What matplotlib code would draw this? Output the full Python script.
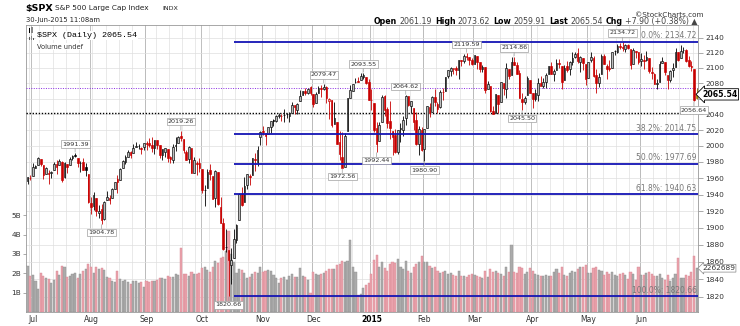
import matplotlib
matplotlib.use('Agg')
import matplotlib.pyplot as plt
import numpy as np
import pandas as pd
from matplotlib.ticker import FixedLocator, FuncFormatter, NullLocator
from matplotlib.transforms import blended_transform_factory
from matplotlib.patches import Rectangle

W, H = 740, 326

# trading calendar, 27-Jun-2014 .. 30-Jun-2015
holidays = ['2014-07-04', '2014-09-01', '2014-11-27', '2014-12-25', '2015-01-01',
            '2015-01-19', '2015-02-16', '2015-04-03', '2015-05-25']
days = pd.bdate_range('2014-06-27', '2015-06-30')
days = days[~days.isin(pd.to_datetime(holidays))]

opens = [
    1957.2, 1960.8,
    # Jul
    1962.3, 1973.1, 1975.9, 1984.2, 1976.4, 1965.1, 1966.7, 1965.8, 1969.9, 1977.4, 1976.4,
    1979.8, 1961.5, 1976.9, 1975.7, 1984.6, 1988.1, 1984.6, 1978.3, 1980.0, 1973.2, 1965.1,
    # Aug
    1929.8, 1926.6, 1936.3, 1917.3, 1923.0, 1910.4, 1933.4, 1935.7, 1935.6, 1947.4, 1958.9,
    1958.4, 1972.7, 1980.5, 1986.8, 1992.6, 1991.7, 1998.6, 2000.5, 1997.4, 1998.5,
    # Sep
    2004.1, 2003.6, 2001.7, 1998.0, 2007.2, 2000.7, 1988.4, 1992.9, 1996.7, 1986.0, 1981.9,
    1999.3, 2003.1, 2012.7, 2009.1, 1992.8, 1983.3, 1997.3, 1966.2, 1978.96, 1978.2,
    # Oct
    1971.4, 1945.8, 1948.1, 1970.0, 1962.4, 1935.6, 1967.7, 1925.6, 1905.7, 1877.1, 1874.2,
    1855.95, 1864.9, 1885.6, 1909.4, 1941.3, 1931.0, 1951.6, 1962.97, 1964.1, 1983.3, 1979.5,
    2011.1,
    # Nov
    2018.2, 2015.8, 2015.3, 2023.3, 2032.0, 2032.0, 2038.2, 2037.8, 2039.2, 2039.7, 2038.3,
    2041.5, 2051.2, 2045.9, 2057.5, 2065.1, 2070.2, 2067.4, 2074.8,
    # Dec
    2065.8, 2053.8, 2067.5, 2073.6, 2072.8, 2074.8, 2056.6, 2058.9, 2027.9, 2030.4, 2005.0,
    1986.7, 1973.8, 2018.98, 2061.0, 2069.3, 2081.5, 2083.3, 2084.3, 2087.6, 2088.5, 2082.1,
    # Jan
    2058.9, 2054.4, 2022.2, 2005.6, 2030.6, 2063.5, 2046.1, 2031.6, 2018.4, 2013.8, 1992.25,
    2020.8, 2020.2, 2034.7, 2062.98, 2050.4, 2047.9, 2032.3, 2002.5, 2019.4,
    # Feb
    1996.7, 2022.7, 2048.9, 2043.5, 2062.3, 2053.5, 2049.4, 2068.6, 2069.98, 2088.8, 2096.5,
    2099.2, 2099.3, 2097.6, 2109.8, 2109.1, 2115.3, 2113.9, 2110.9,
    # Mar
    2105.2, 2115.8, 2107.7, 2098.5, 2100.9, 2072.3, 2076.1, 2044.7, 2041.1, 2064.6, 2055.4,
    2080.6, 2072.8, 2098.7, 2090.3, 2107.99, 2103.9, 2093.1, 2059.9, 2055.8, 2064.1, 2084.1,
    # Apr
    2067.6, 2060.0, 2064.9, 2080.8, 2076.9, 2081.3, 2091.5, 2102.0, 2092.3, 2097.8, 2105.96,
    2102.6, 2084.1, 2102.8, 2098.3, 2107.2, 2114.8, 2119.3, 2108.4, 2112.5, 2105.5,
    # May
    2087.4, 2110.2, 2112.6, 2091.3, 2079.96, 2092.1, 2115.6, 2102.9, 2099.6, 2100.4, 2122.1,
    2121.3, 2129.45, 2127.8, 2125.6, 2130.4, 2125.3, 2105.1, 2122.3, 2120.7,
    # Jun
    2108.6, 2110.4, 2110.6, 2112.4, 2095.1, 2092.3, 2079.07, 2081.1, 2106.2, 2107.4, 2091.3,
    2084.3, 2097.4, 2101.6, 2121.1, 2112.5, 2123.2, 2123.6, 2109.96, 2102.6, 2098.6, 2061.19,
]

highs = [
    1961.0, 1964.2,
    1978.6, 1976.7, 1985.6, 1984.2, 1976.4, 1974.2, 1969.8, 1968.7, 1979.9, 1982.5, 1983.9,
    1981.8, 1979.9, 1976.9, 1986.2, 1989.2, 1991.39, 1984.6, 1981.5, 1984.9, 1978.9, 1965.1,
    1937.4, 1942.9, 1936.3, 1927.9, 1928.9, 1932.4, 1944.9, 1939.7, 1948.4, 1955.2, 1964.0,
    1972.0, 1982.6, 1988.6, 1994.8, 1993.5, 2001.95, 2005.0, 2002.1, 1998.6, 2003.4,
    2006.1, 2009.3, 2011.2, 2007.8, 2007.2, 2001.0, 1996.7, 1997.7, 1996.7, 1987.2, 2002.3,
    2010.7, 2012.3, 2019.26, 2009.1, 1995.4, 1999.8, 1997.3, 1986.4, 1981.3, 1985.2,
    1971.4, 1952.3, 1971.2, 1977.8, 1962.4, 1970.4, 1967.7, 1936.98, 1912.1, 1898.7, 1874.2,
    1876.0, 1898.2, 1905.0, 1942.45, 1949.3, 1961.95, 1965.3, 1964.6, 1985.05, 1991.4, 1999.4,
    2018.2,
    2024.5, 2015.98, 2023.8, 2031.6, 2034.3, 2038.7, 2041.3, 2040.3, 2046.2, 2041.1, 2043.1,
    2056.1, 2052.1, 2053.8, 2071.5, 2070.2, 2074.2, 2073.4, 2075.8,
    2065.8, 2068.8, 2076.3, 2077.3, 2079.47, 2075.8, 2060.6, 2058.9, 2055.5, 2030.4, 2018.7,
    2016.9, 2016.8, 2061.3, 2077.85, 2078.76, 2086.7, 2087.6, 2092.7, 2093.55, 2088.5, 2085.6,
    2072.4, 2054.4, 2030.25, 2029.6, 2064.1, 2064.4, 2049.3, 2056.9, 2018.4, 2021.4, 2020.5,
    2028.9, 2038.3, 2064.62, 2062.98, 2057.6, 2047.9, 2042.5, 2024.6, 2023.3,
    2021.7, 2050.3, 2054.7, 2063.5, 2072.4, 2056.2, 2070.9, 2073.5, 2088.5, 2097.0, 2101.3,
    2100.2, 2102.1, 2111.0, 2110.05, 2117.9, 2119.59, 2113.9, 2112.7,
    2117.5, 2115.8, 2107.7, 2104.3, 2100.9, 2083.5, 2076.1, 2050.1, 2066.4, 2064.6, 2081.4,
    2080.6, 2106.9, 2098.7, 2113.9, 2114.86, 2107.6, 2097.4, 2067.1, 2062.8, 2088.97, 2084.1,
    2067.6, 2072.2, 2086.99, 2089.8, 2086.7, 2093.3, 2102.6, 2107.6, 2098.6, 2111.9, 2111.3,
    2102.6, 2103.9, 2109.6, 2109.0, 2120.5, 2120.9, 2125.9, 2116.0, 2113.6, 2105.5,
    2108.4, 2120.95, 2115.2, 2098.4, 2092.9, 2117.7, 2117.7, 2105.1, 2110.2, 2121.5, 2123.9,
    2131.8, 2133.0, 2134.72, 2131.8, 2132.2, 2125.3, 2126.2, 2122.3, 2120.7,
    2119.2, 2117.6, 2121.9, 2112.9, 2100.99, 2093.0, 2085.6, 2108.5, 2115.0, 2107.4, 2091.3,
    2097.4, 2106.8, 2126.65, 2121.6, 2129.87, 2128.0, 2125.1, 2116.0, 2108.9, 2098.6, 2073.62,
]

lows = [
    1952.4, 1958.2,
    1962.3, 1972.6, 1975.9, 1974.9, 1959.5, 1965.1, 1952.9, 1959.7, 1969.9, 1965.3, 1975.7,
    1955.6, 1960.8, 1965.8, 1975.7, 1982.4, 1985.8, 1974.4, 1967.3, 1969.9, 1962.4, 1930.0,
    1916.4, 1921.2, 1913.8, 1911.5, 1904.78, 1909.0, 1933.4, 1928.3, 1935.6, 1947.4, 1941.5,
    1958.4, 1972.7, 1977.7, 1986.8, 1984.8, 1991.7, 1998.6, 1996.2, 1990.5, 1994.7,
    1994.9, 1998.2, 1992.5, 1990.1, 1995.6, 1984.6, 1982.99, 1985.9, 1980.3, 1978.5, 1979.1,
    1993.3, 2003.1, 2006.6, 1991.0, 1982.4, 1978.6, 1965.9, 1966.2, 1964.0, 1968.0,
    1941.7, 1926.0, 1948.1, 1958.4, 1935.1, 1925.2, 1927.6, 1906.1, 1874.1, 1871.8, 1820.66,
    1835.0, 1864.9, 1882.3, 1909.4, 1926.8, 1931.0, 1946.3, 1951.4, 1964.1, 1969.0, 1974.8,
    2001.0,
    2013.7, 2001.0, 2015.0, 2015.9, 2025.1, 2030.2, 2035.3, 2031.3, 2030.4, 2035.2, 2030.2,
    2041.5, 2040.4, 2040.5, 2056.8, 2065.1, 2064.8, 2066.4, 2065.1,
    2049.6, 2053.8, 2066.7, 2062.3, 2070.8, 2054.3, 2034.2, 2024.3, 2027.9, 2002.3, 1982.3,
    1972.56, 1973.8, 2018.98, 2061.0, 2069.3, 2079.8, 2081.5, 2084.3, 2085.8, 2079.5, 2057.9,
    2046.0, 2017.3, 1992.44, 2005.6, 2030.6, 2038.3, 2022.6, 2008.3, 1988.4, 1991.5, 1990.0,
    2004.5, 2012.0, 2026.4, 2050.5, 2040.97, 2019.9, 2001.5, 1989.2, 1993.4,
    1980.90, 2022.7, 2036.7, 2043.5, 2049.97, 2041.9, 2048.6, 2057.99, 2069.98, 2086.7, 2089.8,
    2092.2, 2090.8, 2085.4, 2103.0, 2105.9, 2109.9, 2103.8, 2103.8,
    2104.5, 2098.3, 2094.5, 2095.2, 2067.3, 2072.2, 2042.5, 2039.69, 2041.1, 2041.2, 2055.4,
    2065.1, 2061.2, 2085.6, 2090.3, 2104.4, 2091.5, 2061.05, 2045.50, 2052.96, 2064.1, 2067.0,
    2048.4, 2057.3, 2056.5, 2076.1, 2073.3, 2074.3, 2091.5, 2092.3, 2083.2, 2097.8, 2100.0,
    2072.4, 2084.1, 2094.4, 2091.1, 2103.2, 2112.8, 2107.0, 2094.9, 2097.4, 2077.6,
    2087.4, 2108.3, 2088.5, 2067.9, 2074.99, 2092.1, 2104.6, 2085.6, 2096.0, 2100.4, 2116.8,
    2120.0, 2124.5, 2122.6, 2120.9, 2125.5, 2099.2, 2105.1, 2112.9, 2104.9,
    2102.5, 2099.1, 2109.6, 2093.2, 2085.7, 2079.1, 2072.1, 2081.1, 2106.2, 2091.3, 2072.5,
    2082.1, 2087.9, 2101.6, 2109.4, 2112.5, 2119.9, 2107.9, 2101.8, 2095.4, 2056.64, 2059.91,
]

closes = [
    1960.96, 1960.23,
    1973.32, 1974.62, 1985.44, 1977.65, 1963.71, 1972.83, 1964.68, 1967.57, 1977.10, 1973.28,
    1981.57, 1958.12, 1978.22, 1973.63, 1983.53, 1987.01, 1987.98, 1978.34, 1978.91, 1969.95,
    1970.07, 1930.67,
    1925.15, 1938.99, 1920.21, 1920.24, 1909.57, 1931.59, 1936.92, 1933.75, 1946.72, 1955.18,
    1955.06, 1971.74, 1981.60, 1986.51, 1992.37, 1988.40, 1997.92, 2000.02, 2000.12, 1996.74,
    2003.37,
    2002.28, 2000.72, 1997.65, 2007.71, 2001.54, 1988.44, 1995.69, 1997.45, 1985.54, 1984.13,
    1998.98, 2001.57, 2011.36, 2010.40, 1994.29, 1982.77, 1998.30, 1965.99, 1982.85, 1977.80,
    1972.29,
    1946.16, 1946.17, 1967.90, 1964.82, 1935.10, 1968.89, 1928.21, 1906.13, 1874.74, 1877.70,
    1862.49, 1862.76, 1886.76, 1904.01, 1941.28, 1927.11, 1950.82, 1964.58, 1961.63, 1985.05,
    1982.30, 1994.65, 2018.05,
    2017.81, 2012.10, 2023.57, 2031.21, 2031.92, 2038.26, 2039.68, 2038.25, 2039.33, 2039.82,
    2041.32, 2051.80, 2048.72, 2052.75, 2063.50, 2069.41, 2067.03, 2072.83, 2067.56,
    2053.44, 2066.55, 2074.33, 2071.92, 2075.37, 2060.31, 2059.82, 2026.14, 2035.33, 2002.33,
    1989.63, 1972.74, 2012.89, 2061.23, 2070.65, 2078.54, 2082.17, 2081.88, 2088.77, 2090.57,
    2080.35, 2058.90,
    2058.20, 2020.58, 2002.61, 2025.90, 2062.14, 2044.81, 2028.26, 2023.03, 2011.27, 1992.67,
    2019.42, 2022.55, 2032.12, 2063.15, 2051.82, 2057.09, 2029.55, 2002.16, 2021.25, 1994.99,
    2020.85, 2050.03, 2041.51, 2062.52, 2055.47, 2046.74, 2068.59, 2068.53, 2088.48, 2096.99,
    2100.34, 2099.68, 2097.45, 2110.30, 2109.66, 2115.48, 2113.86, 2110.74, 2104.50,
    2117.39, 2107.78, 2098.53, 2101.04, 2071.26, 2079.43, 2044.16, 2040.24, 2065.95, 2053.40,
    2081.19, 2074.28, 2099.50, 2089.27, 2108.10, 2104.42, 2091.50, 2061.05, 2056.15, 2061.02,
    2086.24, 2067.89,
    2059.69, 2066.96, 2080.62, 2076.33, 2081.90, 2091.18, 2102.06, 2092.43, 2095.84, 2106.63,
    2104.99, 2081.18, 2100.40, 2097.29, 2107.96, 2112.93, 2117.69, 2108.92, 2114.76, 2106.85,
    2085.51,
    2108.29, 2114.49, 2089.46, 2080.15, 2088.00, 2116.10, 2105.33, 2099.12, 2098.48, 2121.10,
    2122.73, 2129.20, 2127.83, 2125.85, 2130.82, 2126.06, 2104.20, 2123.48, 2120.79, 2107.39,
    2111.73, 2109.60, 2114.07, 2095.84, 2092.83, 2079.28, 2080.15, 2105.20, 2108.86, 2094.11,
    2084.43, 2096.29, 2100.44, 2121.24, 2109.99, 2122.85, 2124.20, 2108.58, 2102.31, 2101.49,
    2057.64, 2065.54,
]

# volume, billions of shares
volumes = [
    2.4, 1.85,
    1.9, 1.6, 1.2, 2.0, 1.85, 1.75, 1.7, 1.5, 1.65, 2.1, 1.9, 2.4, 2.35, 1.8, 1.85, 1.95,
    2.0, 1.75, 1.95, 2.1, 2.2, 2.5,
    2.35, 2.0, 2.3, 2.2, 2.25, 2.15, 1.8, 1.75, 1.6, 1.55, 2.1, 1.7, 1.6, 1.65, 1.55, 1.45,
    1.6, 1.6, 1.5, 1.55, 1.3,
    1.6, 1.55, 1.6, 1.6, 1.65, 1.75, 1.75, 1.7, 1.85, 1.8, 1.8, 1.95, 1.9, 3.3, 1.95, 1.95,
    1.85, 2.05, 1.95, 1.95, 2.0,
    2.25, 2.35, 2.15, 2.05, 2.3, 2.65, 2.55, 2.8, 2.85, 3.15, 4.2, 3.0, 2.6, 2.0, 2.2, 2.15,
    2.0, 1.75, 1.8, 1.95, 2.05, 2.0, 2.3,
    2.05, 2.1, 2.15, 2.1, 1.9, 1.75, 1.5, 1.75, 1.8, 1.65, 1.85, 1.95, 1.8, 1.8, 2.25, 1.85,
    1.8, 1.65, 1.0,
    2.05, 1.95, 1.9, 1.95, 2.0, 2.1, 2.2, 2.2, 2.2, 2.45, 2.5, 2.65, 2.6, 2.65, 3.7, 2.3,
    2.05, 0.9, 0.95, 1.25, 1.4, 1.5,
    1.95, 2.7, 2.95, 2.35, 2.6, 2.25, 2.1, 2.5, 2.6, 2.55, 2.75, 2.35, 2.2, 2.65, 2.1, 2.0,
    2.35, 2.5, 2.6, 2.9,
    2.6, 2.6, 2.4, 2.25, 2.35, 2.1, 2.0, 2.05, 2.1, 1.95, 2.0, 1.9, 1.85, 2.1, 1.85, 1.85,
    1.8, 1.9, 1.95,
    1.9, 1.85, 1.8, 1.75, 2.1, 1.8, 2.2, 2.05, 2.1, 2.0, 1.95, 1.85, 2.35, 2.05, 3.45, 2.05,
    2.0, 2.3, 2.25, 1.95, 2.05, 2.25,
    2.1, 1.95, 1.9, 1.85, 1.85, 1.9, 1.85, 1.85, 2.05, 2.2, 2.0, 2.35, 1.9, 1.85, 2.0, 2.1,
    2.05, 2.2, 2.3, 2.3, 2.45,
    2.0, 2.0, 2.25, 2.3, 2.15, 2.1, 1.9, 2.05, 1.95, 2.05, 1.9, 1.85, 1.95, 2.0, 1.9, 1.7,
    2.05, 1.95, 1.65, 2.3,
    1.9, 1.9, 2.0, 2.05, 1.95, 1.85, 1.85, 1.95, 1.75, 1.65, 1.9, 1.6, 1.75, 1.95, 2.8, 1.75,
    1.75, 1.9, 1.85, 2.05, 2.9, 2.262689,
]

# labelled turning points (index into the daily lists)
swing_highs = [18, 58, 112, 127, 143, 166, 184, 225]
swing_lows = [28, 76, 119, 132, 150, 187, 252]

fib_pcts = [0.0, 38.2, 50.0, 61.8, 100.0]
resist_level = 2073.6
support_level = 2041.0
price_ticks = list(range(1820, 2141, 20))
vol_ticks = [1, 2, 3, 4, 5]

for arr in (opens, highs, lows, closes, volumes):
    assert len(arr) == len(days), len(arr)

o = np.array(opens); h = np.array(highs); l = np.array(lows); c = np.array(closes)
v = np.array(volumes) * 1e9
x = np.arange(len(days))
prev = np.r_[o[0], c[:-1]]
up = c >= prev

fig = plt.figure(figsize=(W / 100, H / 100), dpi=100)
rect = [26 / W, 1 - 312 / H, 672 / W, 287 / H]
ax = fig.add_axes(rect)                      # grid + price scale
axv = fig.add_axes(rect, sharex=ax)          # volume overlay
axp = fig.add_axes(rect, sharex=ax, sharey=ax)  # candles on top

ax.set_yscale('log')
ax.set_ylim(1802.7, 2157.1)
ax.set_xlim(-0.57, 253.5)
ax.yaxis.set_major_locator(FixedLocator(price_ticks))
# the 2060 label sits under the last-price tag
ax.yaxis.set_major_formatter(FuncFormatter(lambda val, pos: '' if round(val) == 2060 else f'{val:.0f}'))
ax.yaxis.set_minor_locator(NullLocator())
ax.yaxis.tick_right()
ax.tick_params(axis='y', labelsize=5.3, labelcolor='#333333', length=3.5, width=0.5,
               color='#888888', pad=1.5)
for s in ax.spines.values():
    s.set_color('#999999')
    s.set_linewidth(0.6)

# grid: weekly, monthly, price levels
month_idx = [i for i in range(1, len(days)) if days[i].month != days[i - 1].month]
week_idx = [i for i in range(1, len(days)) if days[i].weekday() < days[i - 1].weekday()]
for i in week_idx:
    ax.axvline(i - 0.5, color='#e0e0e0', lw=0.5, zorder=0)
for i in month_idx:
    ax.axvline(i - 0.5, color='#b4b4b4', lw=0.6, zorder=0)
for p in price_ticks:
    ax.axhline(p, color='#dedede', lw=0.5, zorder=0)

ax.set_xticks(month_idx)
ax.set_xticklabels(['2015' if days[i].month == 1 else days[i].strftime('%b') for i in month_idx])
ax.tick_params(axis='x', length=0, pad=2, labelsize=5.5, labelcolor='#333333')
for t, i in zip(ax.get_xticklabels(), month_idx):
    if days[i].month == 1:
        t.set_fontweight('bold')
        t.set_color('#000000')

# volume
axv.patch.set_visible(False)
for s in axv.spines.values():
    s.set_visible(False)
axv.set_ylim(0, 14.83e9)
vcol = np.where(up, '#ababab', '#eaa3ad')
vedge = np.where(up, '#909090', '#d78893')
axv.bar(x, v, width=0.8, color=vcol, edgecolor=vedge, linewidth=0.3)
axv.yaxis.tick_left()
axv.set_yticks([t * 1e9 for t in vol_ticks])
axv.set_yticklabels([f'{t}B' for t in vol_ticks])
axv.tick_params(axis='y', labelsize=5.3, labelcolor='#333333', length=2, width=0.5,
                color='#888888', pad=1.5)
axv.tick_params(axis='x', bottom=False, labelbottom=False)

# candles
axp.set_axis_off()
edge = np.where(up, '#000000', '#c80000')
filled = c < o
face = np.where(filled, edge, np.where(up, '#bdbdbd', '#f2b0b0'))
edge[-1] = '#7a6a00'
face[-1] = '#ffe600'
axp.vlines(x, l, h, colors=edge, lw=0.6, zorder=3)
body_lo = np.minimum(o, c)
body_h = np.maximum(np.abs(c - o), 0.4)
axp.bar(x, body_h, bottom=body_lo, width=0.62, color=face, edgecolor=edge,
        linewidth=0.45, zorder=4)

# horizontal reference lines
axp.axhline(resist_level, color='#8a2be2', lw=0.7, ls=(0, (1, 1.5)), zorder=2)
axp.axhline(support_level, color='#000000', lw=1.0, ls=(0, (1, 1.2)), zorder=2)

# fibonacci retracement from the Oct low to the May high
lo_i = int(np.argmin(l)); hi_i = int(np.argmax(h))
fib_lo, fib_hi = l[lo_i], h[hi_i]
for pct in fib_pcts:
    lev = fib_hi - pct / 100 * (fib_hi - fib_lo)
    axp.hlines(lev, lo_i + 2, 253.5, color='#1414b4', lw=1.3, zorder=5)
    axp.annotate(f'{pct:.1f}%: {lev:.2f}', xy=(253.5, lev), xytext=(-1, 1),
                 textcoords='offset points', ha='right', va='bottom', fontsize=5.5,
                 color='#777777', zorder=6)

# turning point labels
box = dict(boxstyle='square,pad=0.18', fc='white', ec='#a0a0a0', lw=0.5)
arrow = dict(arrowstyle='-', color='#a0a0a0', lw=0.5, shrinkA=0, shrinkB=0.5)
for i in swing_highs:
    axp.annotate(f'{h[i]:.2f}', xy=(i, h[i]), xytext=(0, 4.5), textcoords='offset points',
                 ha='center', va='bottom', fontsize=4.6, color='#333333', bbox=box,
                 arrowprops=arrow, zorder=7)
for i in swing_lows:
    axp.annotate(f'{l[i]:.2f}', xy=(i, l[i]), xytext=(0, -4.5), textcoords='offset points',
                 ha='center', va='top', fontsize=4.6, color='#333333', bbox=box,
                 arrowprops=arrow, zorder=7)

# last price / last volume tags in the right margin
tr_p = blended_transform_factory(axp.transAxes, axp.transData)
axp.text(1.006, c[-1], f'{c[-1]:.2f}', transform=tr_p, ha='left', va='center',
         fontsize=5.6, fontweight='bold', color='#000000', clip_on=False, zorder=8,
         bbox=dict(boxstyle='larrow,pad=0.15', fc='white', ec='#000000', lw=0.6))
tr_v = blended_transform_factory(axp.transAxes, axv.transData)
axp.text(1.006, v[-1], f'{v[-1] / 1e3:.0f}', transform=tr_v, ha='left', va='center',
         fontsize=5.3, color='#333333', clip_on=False, zorder=8,
         bbox=dict(boxstyle='larrow,pad=0.12', fc='white', ec='#888888', lw=0.5))

# legend inside the chart
axp.text(0.016, 0.975, f'$SPX (Daily) {c[-1]:.2f}', transform=axp.transAxes, ha='left',
         va='top', fontsize=6, family='Liberation Mono', color='#000000', zorder=9,
         bbox=dict(boxstyle='square,pad=0.1', fc='white', ec='none'))
axp.text(0.016, 0.935, 'Volume undef', transform=axp.transAxes, ha='left', va='top',
         fontsize=4.8, color='#333333', zorder=9,
         bbox=dict(boxstyle='square,pad=0.1', fc='white', ec='none'))
for dx, dy, hh, col in [(29, 28.5, 4.5, '#000000'), (31.3, 27.5, 5, '#888888')]:
    fig.add_artist(Rectangle((dx / W, 1 - (dy + hh) / H), 1.4 / W, hh / H,
                             transform=fig.transFigure, fc=col, ec='none', zorder=10))
for dx, hh, col in [(29, 3, '#555555'), (31, 4, '#888888'), (33, 2.5, '#555555')]:
    fig.add_artist(Rectangle((dx / W, 1 - 40 / H), 1.4 / W, hh / H,
                             transform=fig.transFigure, fc=col, ec='none', zorder=10))

# header
def fx(px):
    return px / W

def fy(py):
    return 1 - py / H

fig.text(fx(25), fy(8), '$SPX', fontsize=6.8, fontweight='bold', va='center')
fig.text(fx(55), fy(8), 'S&P 500 Large Cap Index', fontsize=5.3, va='center', color='#222222')
fig.text(fx(162), fy(8), 'INDX', fontsize=4.6, va='center', color='#222222')
fig.text(fx(26), fy(20), '30-Jun-2015 11:08am', fontsize=4.9, va='center', color='#222222')
fig.text(fx(703), fy(15), '\u00a9StockCharts.com', fontsize=5.2, va='center', ha='right',
         color='#333333')

chg = c[-1] - c[-2]
runs = [('Open', f'{o[-1]:.2f}'), ('High', f'{h[-1]:.2f}'), ('Low', f'{l[-1]:.2f}'),
        ('Last', f'{c[-1]:.2f}'), ('Chg', f'{chg:+.2f} ({chg / c[-2] * 100:+.2f}%) \u25b2')]
renderer = fig.canvas.get_renderer()
xp = 374
for lab, val in runs:
    t = fig.text(fx(xp), fy(21.5), lab, fontsize=5.7, fontweight='bold', va='center')
    xp += t.get_window_extent(renderer).width + 2
    t = fig.text(fx(xp), fy(21.5), val, fontsize=5.7, va='center', color='#444444')
    xp += t.get_window_extent(renderer).width + 3.5

fig.savefig('out.png', dpi=100)
